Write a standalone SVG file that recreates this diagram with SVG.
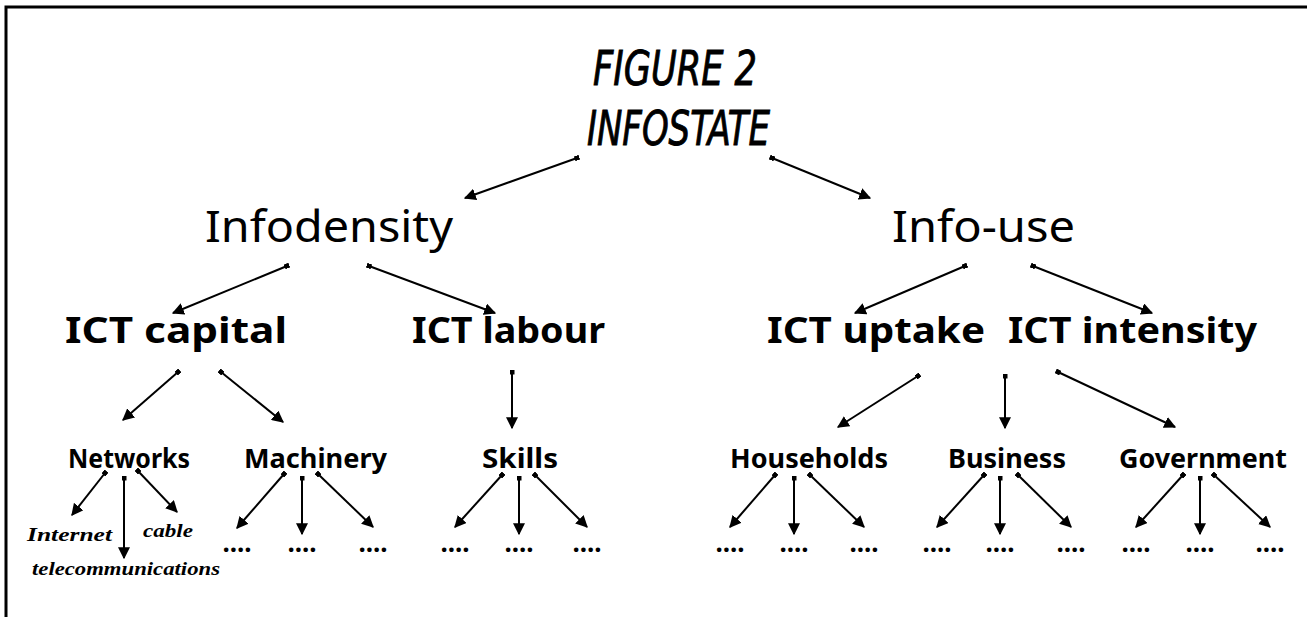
<svg xmlns="http://www.w3.org/2000/svg" width="1307" height="617" viewBox="0 0 1307 617">
  <defs>
    <style>
      .title { font-family: "DejaVu Sans", "Liberation Sans", sans-serif; font-style: oblique; font-stretch: condensed; font-size: 48px; fill: #000; stroke: #000; stroke-width: 0.9; }
      .l1 { font-family: "Noto Sans", "Liberation Sans", sans-serif; font-size: 44px; fill: #000; }
      .l2 { font-family: "Noto Sans", "Liberation Sans", sans-serif; font-weight: bold; font-size: 36px; fill: #000; }
      .l3 { font-family: "Noto Sans", "Liberation Sans", sans-serif; font-weight: bold; font-size: 26px; fill: #000; }
      .dots { font-family: "Noto Sans", "Liberation Sans", sans-serif; font-weight: bold; font-size: 26px; fill: #000; }
      .script { font-family: "Liberation Serif", "DejaVu Serif", serif; font-style: italic; font-weight: bold; font-size: 18px; fill: #000; }
      .edge { stroke: #000; stroke-width: 2; fill: none; marker-start: url(#tail); marker-end: url(#head); }
      .frame { stroke: #000; stroke-width: 3; fill: none; }
    </style>
    <marker id="head" viewBox="0 0 10 10" refX="9" refY="5" markerWidth="6" markerHeight="6" orient="auto" markerUnits="strokeWidth">
      <path d="M0,0 L10,5 L0,10 z" fill="#000"/>
    </marker>
    <marker id="tail" viewBox="0 0 4 4" refX="2" refY="2" markerWidth="2.5" markerHeight="2.5" orient="auto" markerUnits="strokeWidth">
      <rect x="0" y="0" width="4" height="4" fill="#000"/>
    </marker>
  </defs>

  <rect width="1307" height="617" fill="#fff"/>

  <!-- open frame: top and left rules -->
  <path class="frame" d="M6,617 V7 H1307"/>

  <!-- title -->
  <g id="title">
    <text class="title" x="593" y="85" textLength="164" lengthAdjust="spacingAndGlyphs">FIGURE 2</text>
    <text class="title" x="587" y="145" textLength="183" lengthAdjust="spacingAndGlyphs">INFOSTATE</text>
  </g>

  <!-- level 1 -->
  <g id="infodensity"><text class="l1" x="205" y="242" textLength="248" lengthAdjust="spacingAndGlyphs">Infodensity</text></g>
  <g id="info-use"><text class="l1" x="892" y="242" textLength="183" lengthAdjust="spacingAndGlyphs">Info-use</text></g>

  <!-- level 2 -->
  <g id="ict-capital"><text class="l2" x="65" y="343" textLength="222" lengthAdjust="spacingAndGlyphs">ICT capital</text></g>
  <g id="ict-labour"><text class="l2" x="412" y="343" textLength="193" lengthAdjust="spacingAndGlyphs">ICT labour</text></g>
  <g id="ict-uptake"><text class="l2" x="767" y="343" textLength="218" lengthAdjust="spacingAndGlyphs">ICT uptake</text></g>
  <g id="ict-intensity"><text class="l2" x="1008" y="343" textLength="249" lengthAdjust="spacingAndGlyphs">ICT intensity</text></g>

  <!-- level 3 -->
  <g id="networks"><text class="l3" x="68" y="468" textLength="122" lengthAdjust="spacingAndGlyphs">Networks</text></g>
  <g id="machinery"><text class="l3" x="244" y="468" textLength="143" lengthAdjust="spacingAndGlyphs">Machinery</text></g>
  <g id="skills"><text class="l3" x="482" y="468" textLength="76" lengthAdjust="spacingAndGlyphs">Skills</text></g>
  <g id="households"><text class="l3" x="730" y="468" textLength="158" lengthAdjust="spacingAndGlyphs">Households</text></g>
  <g id="business"><text class="l3" x="948" y="468" textLength="118" lengthAdjust="spacingAndGlyphs">Business</text></g>
  <g id="government"><text class="l3" x="1119" y="468" textLength="168" lengthAdjust="spacingAndGlyphs">Government</text></g>

  <!-- network leaves -->
  <g id="internet"><text class="script" x="27" y="541" textLength="85" lengthAdjust="spacingAndGlyphs">Internet</text></g>
  <g id="cable"><text class="script" x="143" y="537" textLength="50" lengthAdjust="spacingAndGlyphs">cable</text></g>
  <g id="telecommunications"><text class="script" x="32" y="575" textLength="188" lengthAdjust="spacingAndGlyphs">telecommunications</text></g>

  <!-- open leaves -->
  <g id="leaves" class="dots" text-anchor="middle">
    <text x="237" y="552">....</text>
    <text x="302" y="552">....</text>
    <text x="373" y="552">....</text>
    <text x="455" y="552">....</text>
    <text x="519" y="552">....</text>
    <text x="587" y="552">....</text>
    <text x="730" y="552">....</text>
    <text x="794" y="552">....</text>
    <text x="864" y="552">....</text>
    <text x="937" y="552">....</text>
    <text x="1000" y="552">....</text>
    <text x="1071" y="552">....</text>
    <text x="1136" y="552">....</text>
    <text x="1200" y="552">....</text>
    <text x="1270" y="552">....</text>
  </g>

  <!-- connectors -->
  <g id="connectors">
    <line class="edge" x1="577" y1="158" x2="465" y2="198"/>
    <line class="edge" x1="772" y1="158" x2="870" y2="198"/>

    <line class="edge" x1="287" y1="266" x2="173" y2="313"/>
    <line class="edge" x1="369" y1="266" x2="495" y2="313"/>
    <line class="edge" x1="965" y1="266" x2="855" y2="313"/>
    <line class="edge" x1="1033" y1="266" x2="1152" y2="313"/>

    <line class="edge" x1="178" y1="372" x2="123" y2="420"/>
    <line class="edge" x1="221" y1="372" x2="283" y2="422"/>
    <line class="edge" x1="512" y1="372" x2="512" y2="428"/>
    <line class="edge" x1="918" y1="376" x2="838" y2="427"/>
    <line class="edge" x1="1005" y1="376" x2="1005" y2="428"/>
    <line class="edge" x1="1058" y1="372" x2="1175" y2="427"/>

    <line class="edge" x1="105" y1="473" x2="72" y2="515"/>
    <line class="edge" x1="124" y1="478" x2="124" y2="558"/>
    <line class="edge" x1="138" y1="471" x2="177" y2="512"/>

    <line class="edge" x1="284" y1="474" x2="237" y2="528"/>
    <line class="edge" x1="302" y1="478" x2="302" y2="534"/>
    <line class="edge" x1="318" y1="474" x2="373" y2="527"/>

    <line class="edge" x1="502" y1="475" x2="455" y2="527"/>
    <line class="edge" x1="519" y1="478" x2="519" y2="534"/>
    <line class="edge" x1="535" y1="475" x2="587" y2="527"/>

    <line class="edge" x1="775" y1="475" x2="730" y2="527"/>
    <line class="edge" x1="794" y1="478" x2="794" y2="534"/>
    <line class="edge" x1="810" y1="475" x2="864" y2="527"/>

    <line class="edge" x1="984" y1="475" x2="937" y2="527"/>
    <line class="edge" x1="1000" y1="478" x2="1000" y2="534"/>
    <line class="edge" x1="1018" y1="475" x2="1071" y2="527"/>

    <line class="edge" x1="1183" y1="475" x2="1136" y2="527"/>
    <line class="edge" x1="1200" y1="478" x2="1200" y2="534"/>
    <line class="edge" x1="1214" y1="475" x2="1270" y2="527"/>
  </g>
</svg>
